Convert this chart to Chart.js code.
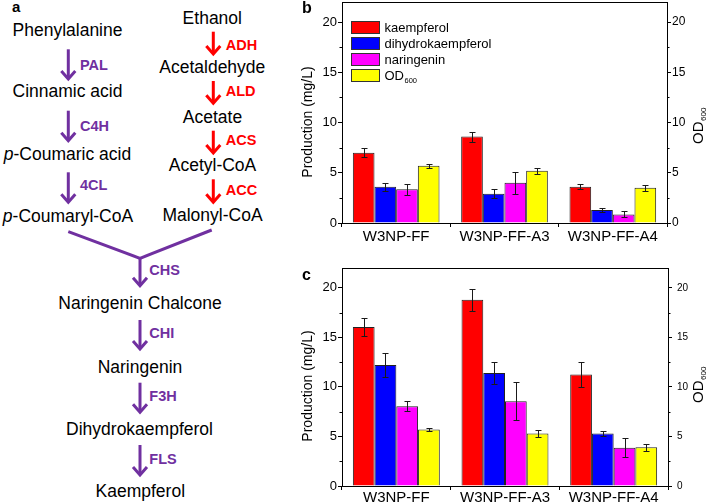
<!DOCTYPE html>
<html><head><meta charset="utf-8">
<script src="https://cdn.jsdelivr.net/npm/chart.js@4.4.1/dist/chart.umd.min.js"></script>
<style>
html,body{margin:0;padding:0;background:#fff;}
#wrap{position:relative;width:709px;height:503px;overflow:hidden;background:#fff;}
#cb{position:absolute;left:290px;top:0;width:419px;height:250px;}
#cc{position:absolute;left:290px;top:255px;width:419px;height:248px;}
#path{position:absolute;left:0;top:0;}
</style></head><body>
<div id="wrap">
<svg id="path" width="290" height="503" xmlns="http://www.w3.org/2000/svg"></svg>
<canvas id="cb" width="419" height="250"></canvas>
<canvas id="cc" width="419" height="248"></canvas>
</div>
<script>
// ---------- data ----------
const categories = ['W3NP-FF', 'W3NP-FF-A3', 'W3NP-FF-A4'];
const seriesNames = ['kaempferol', 'dihydrokaempferol', 'naringenin', 'OD600'];
const yTicksMax = 22;

// panel b
const kaempB = [7.0, 8.6, 3.6];
const kaempBErr = [0.45, 0.5, 0.26];
const dhkB = [3.6, 2.9, 1.3];
const dhkBErr = [0.4, 0.46, 0.2];
const narB = [3.35, 4.0, 0.85];
const narBErr = [0.55, 1.12, 0.3];
const odB = [5.7, 5.2, 3.5];
const odBErr = [0.22, 0.3, 0.27];

// panel c
const kaempC = [16.05, 18.8, 11.25];
const kaempCErr = [0.95, 1.1, 1.3];
const dhkC = [12.2, 11.4, 5.3];
const dhkCErr = [1.25, 1.1, 0.25];
const narC = [8.05, 8.55, 3.85];
const narCErr = [0.5, 1.9, 0.95];
const odC = [5.7, 5.3, 3.9];
const odCErr = [0.12, 0.33, 0.37];

// ---------- pathway diagram (panel a) ----------
const PURPLE = '#7030A0', RED = '#FF0000';
const FONT = '"Liberation Sans", Arial, Helvetica, sans-serif';
const compounds = [
  ['Phenylalanine', 67.5, 36.3],
  ['Cinnamic acid', 67.5, 97.3],
  ['*p*-Coumaric acid', 67.5, 160],
  ['*p*-Coumaryl-CoA', 68, 222.3],
  ['Ethanol', 212.3, 24.3],
  ['Acetaldehyde', 212.3, 72.7],
  ['Acetate', 212.5, 122.7],
  ['Acetyl-CoA', 212.5, 170.7],
  ['Malonyl-CoA', 212.5, 220.7],
  ['Naringenin Chalcone', 140, 309.3],
  ['Naringenin', 140, 372.7],
  ['Dihydrokaempferol', 139.5, 435.3],
  ['Kaempferol', 140.3, 497.3]
];
const enzymes = [
  ['PAL', 80, 70, PURPLE], ['C4H', 80, 131, PURPLE], ['4CL', 80, 190, PURPLE],
  ['ADH', 225.7, 49.5, RED], ['ALD', 225.7, 96, RED], ['ACS', 225.7, 145.3, RED], ['ACC', 225.7, 194.5, RED],
  ['CHS', 149.3, 275.2, PURPLE], ['CHI', 149.3, 337.9, PURPLE], ['F3H', 149.3, 401, PURPLE], ['FLS', 149.3, 463.5, PURPLE]
];
const arrows = [
  [68.3, 49.3, 80, PURPLE], [68.3, 110.7, 141.7, PURPLE], [68.3, 172.3, 203.3, PURPLE],
  [213.3, 31.7, 55, RED], [213.3, 81, 104.3, RED], [213.3, 130.7, 154, RED], [213.3, 179.3, 203.3, RED],
  [140, 257, 286.7, PURPLE], [140, 320, 350, PURPLE], [140, 382.7, 413.3, PURPLE], [140, 445, 476, PURPLE]
];
(function drawPathway(){
  const svg = document.getElementById('path');
  const NS = 'http://www.w3.org/2000/svg';
  function el(tag, attrs){ const e = document.createElementNS(NS, tag); for (const k in attrs) e.setAttribute(k, attrs[k]); svg.appendChild(e); return e; }
  const a = el('text', {x: 12, y: 12, 'font-family': FONT, 'font-size': 15, 'font-weight': 'bold', fill: '#000'});
  a.textContent = 'a';
  compounds.forEach(([t, x, y]) => {
    const tx = el('text', {x, y, 'font-family': FONT, 'font-size': 17.5, fill: '#000', 'text-anchor': 'middle'});
    const parts = t.split('*');
    parts.forEach((p, i) => {
      if (!p) return;
      const ts = document.createElementNS(NS, 'tspan');
      if (i % 2 === 1) ts.setAttribute('font-style', 'italic');
      ts.textContent = p;
      tx.appendChild(ts);
    });
  });
  enzymes.forEach(([t, x, y, c]) => {
    const tx = el('text', {x, y, 'font-family': FONT, 'font-size': 14.5, 'font-weight': 'bold', fill: c});
    tx.textContent = t;
  });
  // V-shaped junction
  el('polyline', {points: '68.3,231.7 140,258.3 211.7,230', fill: 'none', stroke: PURPLE, 'stroke-width': 3, 'stroke-linejoin': 'miter'});
  arrows.forEach(([x, y1, y2, c]) => {
    el('line', {x1: x, y1, x2: x, y2: y2 - 1.5, stroke: c, 'stroke-width': 3});
    el('polyline', {points: `${x-7},${y2-9} ${x},${y2-1} ${x+7},${y2-9}`, fill: 'none', stroke: c, 'stroke-width': 3, 'stroke-linejoin': 'miter'});
  });
})();

// ---------- charts (panels b and c) ----------
const barColors = ['#FF0000', '#0000FF', '#FF00FF', '#FFFF00'];

const errorBars = {
  id: 'errorBars',
  afterDatasetsDraw(chart) {
    const ctx = chart.ctx;
    ctx.save();
    ctx.strokeStyle = '#1a1a1a';
    ctx.lineWidth = 1;
    chart.data.datasets.forEach((ds, i) => {
      const meta = chart.getDatasetMeta(i);
      const ys = chart.scales[ds.yAxisID];
      meta.data.forEach((bar, j) => {
        const v = ds.data[j], e = ds.errors[j];
        const x = Math.round(bar.x) + 0.5;
        const t = Math.round(ys.getPixelForValue(v + e)) + 0.5;
        const b = Math.round(ys.getPixelForValue(v - e)) + 0.5;
        ctx.beginPath();
        ctx.moveTo(x, t); ctx.lineTo(x, b);
        ctx.moveTo(x - 3, t); ctx.lineTo(x + 3, t);
        ctx.moveTo(x - 3, b); ctx.lineTo(x + 3, b);
        ctx.stroke();
      });
    });
    ctx.restore();
  }
};

const deco = {
  id: 'deco',
  afterDraw(chart, args, o) {
    const ctx = chart.ctx, a = chart.chartArea;
    ctx.save();
    ctx.strokeStyle = '#000'; ctx.lineWidth = 1;
    ctx.beginPath(); ctx.moveTo(a.left, Math.round(a.top) + 0.5); ctx.lineTo(a.right, Math.round(a.top) + 0.5); ctx.stroke();
    // short minor ticks (hidden in the scale, drawn here)
    ['y', 'y1'].forEach(id => {
      const s = chart.scales[id];
      s.ticks.forEach(t => {
        if (t.value % 5 === 0) return;
        const py = Math.round(s.getPixelForValue(t.value)) + 0.5;
        ctx.beginPath();
        if (id === 'y') { ctx.moveTo(a.left - 2.5, py); ctx.lineTo(a.left, py); }
        else { ctx.moveTo(a.right, py); ctx.lineTo(a.right + 2.5, py); }
        ctx.stroke();
      });
    });
    ctx.fillStyle = '#000';
    // panel letter
    ctx.font = 'bold 16px ' + FONT;
    ctx.textAlign = 'left'; ctx.textBaseline = 'alphabetic';
    ctx.fillText(o.letter, o.letterX, o.letterY);
    // left title
    ctx.save();
    ctx.translate(o.ltX, o.ltY); ctx.rotate(-Math.PI / 2);
    ctx.font = '14px ' + FONT; ctx.textAlign = 'center'; ctx.textBaseline = 'middle';
    ctx.fillText('Production (mg/L)', 0, 0);
    ctx.restore();
    // right title OD600
    ctx.save();
    ctx.translate(o.rtX, o.rtY); ctx.rotate(-Math.PI / 2);
    ctx.textBaseline = 'middle'; ctx.textAlign = 'left';
    ctx.font = '15px ' + FONT; const w1 = ctx.measureText('OD').width;
    ctx.font = '8px ' + FONT; const w2 = ctx.measureText('600').width;
    ctx.font = '15px ' + FONT; ctx.fillText('OD', -(w1 + w2) / 2, 0);
    ctx.font = '8px ' + FONT; ctx.fillText('600', -(w1 + w2) / 2 + w1 + 0.5, 5);
    ctx.restore();
    // legend
    if (o.legend) {
      chart.data.datasets.forEach((ds, i) => {
        const y = o.legY + i * o.legStep;
        ctx.fillStyle = ds.backgroundColor;
        ctx.fillRect(o.legX, y, 29, 13);
        ctx.strokeStyle = '#333';
        ctx.strokeRect(o.legX + 0.5, y + 0.5, 28, 12);
        ctx.fillStyle = '#000';
        ctx.textBaseline = 'middle'; ctx.textAlign = 'left';
        if (ds.label === 'OD600') {
          ctx.font = '13px ' + FONT;
          ctx.fillText('OD', o.legX + 33.5, y + 7);
          const w = ctx.measureText('OD').width;
          ctx.font = '7.5px ' + FONT;
          ctx.fillText('600', o.legX + 34 + w, y + 12);
        } else {
          ctx.font = '13px ' + FONT;
          ctx.fillText(ds.label, o.legX + 33.5, y + 7);
        }
      });
    }
    ctx.restore();
  }
};

function makeChart(id, vals, errs, L) {
  const datasets = seriesNames.map((n, i) => ({
    label: n,
    data: vals[i],
    errors: errs[i],
    backgroundColor: barColors[i],
    borderColor: '#222',
    borderWidth: 1,
    yAxisID: i === 3 ? 'y1' : 'y',
    categoryPercentage: 0.8,
    barPercentage: 1.0
  }));
  const yAxis = (pos, size, pad, width) => ({
    type: 'linear', position: pos, min: 0, max: yTicksMax,
    ticks: {
      stepSize: 2.5, includeBounds: false, color: '#000', padding: pad,
      font: {size, family: FONT},
      callback: v => (v % 5 === 0 ? String(v) : '')
    },
    grid: {display: true, drawOnChartArea: false, drawTicks: true, tickLength: 4, color: '#000',
           tickColor: c => (c.tick && c.tick.value % 5 !== 0) ? 'rgba(0,0,0,0)' : '#000'},
    border: {display: true, color: '#000', width: 1},
    afterFit: s => { s.width = width; s.paddingTop = 0; s.paddingBottom = 0; }
  });
  return new Chart(document.getElementById(id), {
    type: 'bar',
    data: {labels: categories, datasets},
    options: {
      responsive: false, animation: false, devicePixelRatio: 1,
      layout: {padding: {top: L.top, left: 0, right: 0, bottom: 0}},
      plugins: {legend: {display: false}, tooltip: {enabled: false}, deco: L.deco},
      scales: {
        x: {
          type: 'category', offset: true,
          grid: {display: true, drawOnChartArea: false, drawTicks: true, tickLength: 4, color: '#000', offset: true},
          border: {display: true, color: '#000', width: 1},
          ticks: {color: '#000', padding: L.xPad, maxRotation: 0, autoSkip: false,
                  font: {size: 15, family: FONT, lineHeight: L.xLH}},
          afterFit: s => { s.height = L.xH; s.paddingLeft = 0; s.paddingRight = 0; }
        },
        y: yAxis('left', 13, 1, 52),
        y1: yAxis('right', L.rSize, L.rPad, L.rW)
      }
    },
    plugins: [errorBars, deco]
  });
}

makeChart('cb', [kaempB, dhkB, narB, odB], [kaempBErr, dhkBErr, narBErr, odBErr], {
  top: 2, xH: 27, xPad: 1, xLH: 1.2, rSize: 12, rPad: 1, rW: 42,
  deco: {letter: 'b', letterX: 12, letterY: 13, ltX: 18, ltY: 122, rtX: 409, rtY: 126,
         legend: true, legX: 61, legY: 21, legStep: 16}
});
makeChart('cc', [kaempC, dhkC, narC, odC], [kaempCErr, dhkCErr, narCErr, odCErr], {
  top: 13, xH: 17, xPad: 0, xLH: 1.0, rSize: 10, rPad: 5, rW: 41,
  deco: {letter: 'c', letterX: 12, letterY: 25, ltX: 18, ltY: 131, rtX: 409, rtY: 130,
         legend: false}
});
</script>
</body></html>
